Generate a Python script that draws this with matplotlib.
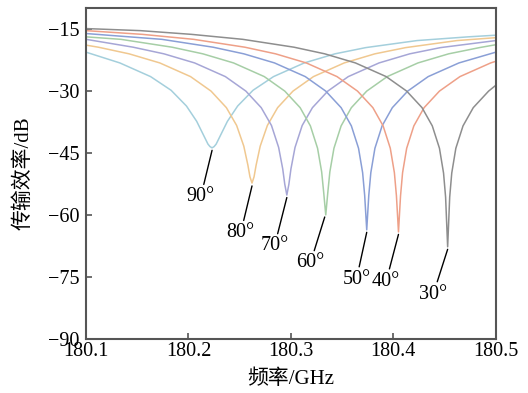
import matplotlib
matplotlib.use('Agg')
import matplotlib.pyplot as plt

plt.rcParams['font.family'] = ['Liberation Serif', 'Noto Sans CJK SC']
plt.rcParams['font.size'] = 14

# resonance curves, one per angle (frequency in GHz, transmission in dB)
freq_90 = [180.1, 180.133, 180.163, 180.183, 180.198, 180.208, 180.215, 180.219, 180.221, 180.223,
           180.225, 180.227, 180.231, 180.238, 180.248, 180.263, 180.283, 180.313, 180.343, 180.373,
           180.423, 180.473, 180.5]
db_90 = [-20.7, -23.3, -26.6, -29.9, -33.7, -37.4, -40.9, -42.9, -43.5, -43.8,
         -43.5, -42.9, -40.9, -37.4, -33.7, -29.9, -26.6, -23.3, -21.1, -19.6,
         -17.9, -17.0, -16.6]

freq_80 = [180.1, 180.112, 180.142, 180.172, 180.202, 180.222, 180.237, 180.247, 180.254, 180.258,
           180.260, 180.262, 180.264, 180.266, 180.270, 180.277, 180.287, 180.302, 180.322, 180.352,
           180.382, 180.412, 180.462, 180.5]
db_80 = [-19.0, -19.5, -21.1, -23.3, -26.6, -30.1, -34.1, -38.4, -43.4, -48.0,
         -50.8, -52.3, -50.8, -48.0, -43.4, -38.4, -34.1, -30.1, -26.6, -23.3,
         -21.1, -19.6, -17.9, -17.2]

freq_70 = [180.1, 180.146, 180.176, 180.206, 180.236, 180.256, 180.271, 180.281, 180.288, 180.292,
           180.294, 180.296, 180.298, 180.300, 180.304, 180.311, 180.321, 180.336, 180.356, 180.386,
           180.416, 180.446, 180.5]
db_70 = [-17.6, -19.5, -21.1, -23.3, -26.6, -30.1, -34.1, -38.4, -43.7, -48.9,
         -52.6, -55.2, -52.6, -48.9, -43.7, -38.4, -34.1, -30.1, -26.6, -23.3,
         -21.1, -19.6, -17.9]

freq_60 = [180.1, 180.134, 180.184, 180.214, 180.244, 180.274, 180.294, 180.309, 180.319, 180.326,
           180.330, 180.332, 180.334, 180.336, 180.338, 180.342, 180.349, 180.359, 180.374, 180.394,
           180.424, 180.454, 180.484, 180.5]
db_60 = [-17.0, -17.6, -19.5, -21.1, -23.3, -26.6, -30.1, -34.1, -38.5, -43.9,
         -49.6, -54.6, -60.0, -54.6, -49.6, -43.9, -38.5, -34.1, -30.1, -26.6,
         -23.3, -21.1, -19.6, -18.9]

freq_50 = [180.1, 180.174, 180.224, 180.254, 180.284, 180.314, 180.334, 180.349, 180.359, 180.366,
           180.370, 180.372, 180.374, 180.376, 180.378, 180.382, 180.389, 180.399, 180.414, 180.434,
           180.464, 180.5]
db_50 = [-16.2, -17.6, -19.5, -21.1, -23.3, -26.6, -30.1, -34.1, -38.5, -43.9,
         -49.8, -55.3, -63.6, -55.3, -49.8, -43.9, -38.5, -34.1, -30.1, -26.6,
         -23.3, -20.7]

freq_40 = [180.1, 180.155, 180.205, 180.255, 180.285, 180.315, 180.345, 180.365, 180.380, 180.390,
           180.397, 180.401, 180.403, 180.405, 180.407, 180.409, 180.413, 180.420, 180.430, 180.445,
           180.465, 180.495, 180.5]
db_40 = [-15.5, -16.4, -17.6, -19.5, -21.1, -23.3, -26.6, -30.1, -34.1, -38.5,
         -43.9, -49.8, -55.4, -64.1, -55.4, -49.8, -43.9, -38.5, -34.1, -30.1,
         -26.6, -23.3, -22.9]

freq_30 = [180.1, 180.153, 180.203, 180.253, 180.303, 180.333, 180.363, 180.393, 180.413, 180.428,
           180.438, 180.445, 180.449, 180.451, 180.453, 180.455, 180.457, 180.461, 180.468, 180.478,
           180.493, 180.5]
db_30 = [-15.0, -15.5, -16.4, -17.6, -19.5, -21.1, -23.3, -26.6, -30.1, -34.1,
         -38.5, -43.9, -49.9, -55.7, -67.7, -55.7, -49.9, -43.9, -38.5, -34.1,
         -30.1, -28.7]

angles = ['90°', '80°', '70°', '60°', '50°', '40°', '30°']
colors = ['#a4cfdc', '#f0c890', '#a6a6d6', '#a6cea6', '#8a9fd6', '#eea088', '#8e8e8e']
curves = [(freq_90, db_90), (freq_80, db_80), (freq_70, db_70), (freq_60, db_60),
          (freq_50, db_50), (freq_40, db_40), (freq_30, db_30)]

# leader line end (at the dip) and label position
tip_x = [180.223, 180.262, 180.296, 180.333, 180.374, 180.405, 180.453]
tip_y = [-44.4, -53.0, -55.8, -60.5, -64.2, -64.7, -68.3]
lab_x = [180.212, 180.251, 180.284, 180.319, 180.364, 180.393, 180.439]
lab_y = [-55.6, -64.3, -67.5, -71.6, -75.5, -76.0, -79.1]

fig = plt.figure(figsize=(5.28, 3.93), dpi=100)
ax = fig.add_axes([0.163, 0.137, 0.776, 0.843])

for (f, d), c in zip(curves, colors):
    ax.plot(f, d, color=c, lw=1.1)

for i in range(len(angles)):
    ax.annotate(angles[i], xy=(tip_x[i], tip_y[i]), xytext=(lab_x[i], lab_y[i]),
                ha='center', va='center', fontsize=14.5,
                arrowprops=dict(arrowstyle='-', color='black', lw=1.0, shrinkA=0, shrinkB=0))

ax.set_xlim(180.1, 180.5)
ax.set_ylim(-90, -10)
ax.set_xticks([180.1, 180.2, 180.3, 180.4, 180.5])
ax.set_xticklabels(['180.1', '180.2', '180.3', '180.4', '180.5'])
ax.set_yticks([-90, -75, -60, -45, -30, -15])
ax.tick_params(direction='in', length=4, width=1.2, color='#555555', labelsize=14.5)
ax.tick_params(axis='y', pad=5)
ax.tick_params(axis='x', pad=2)
for s in ax.spines.values():
    s.set_color('#555555')
    s.set_linewidth(1.5)

ax.set_xlabel('频率/GHz', fontsize=15, labelpad=6)
ax.set_ylabel('传输效率/dB', fontsize=15, labelpad=10)

fig.savefig('out.png', dpi=100)
